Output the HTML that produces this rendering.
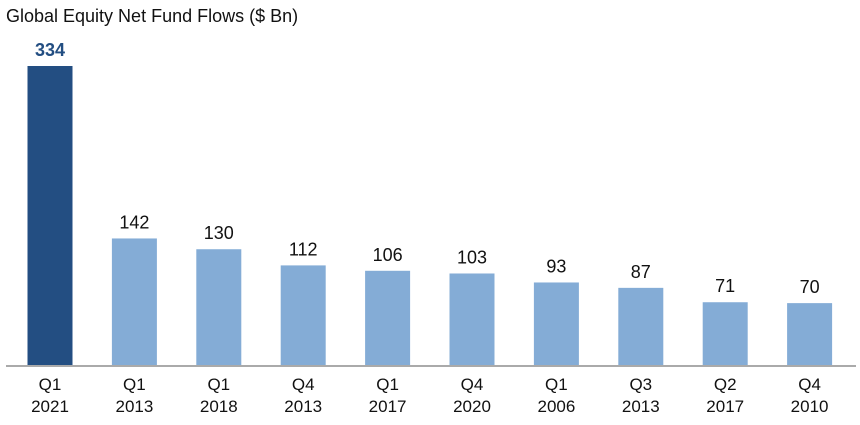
<!DOCTYPE html>
<html><head><meta charset="utf-8"><style>
body{margin:0;background:#fff;}
svg text{font-family:"Liberation Sans Narrow","Liberation Sans",sans-serif;}
</style></head><body>
<svg width="860" height="420">
<text x="6" y="22" font-size="18" fill="#111">Global Equity Net Fund Flows ($ Bn)</text>
<g id="bars"></g>
<line x1="6" x2="856" y1="366" y2="366" stroke="#aaa" stroke-width="2"/>
</svg>
<script>
const quarters=["Q1","Q1","Q1","Q4","Q1","Q4","Q1","Q3","Q2","Q4"];
const years=["2021","2013","2018","2013","2017","2020","2006","2013","2017","2010"];
const values=[334,142,130,112,106,103,93,87,71,70];
const x0=7.8,step=84.4,bw=45,base=366,scale=300/334;
const xs=i=>x0+step*(i+0.5);
const ys=v=>base-v*scale;
const g=document.getElementById('bars');
const NS="http://www.w3.org/2000/svg";
values.forEach((v,i)=>{
  const r=document.createElementNS(NS,'rect');
  
  
  r.setAttribute('x',xs(i)-bw/2);r.setAttribute('y',ys(v));
  r.setAttribute('width',bw);r.setAttribute('height',base-ys(v));
  r.setAttribute('fill',i===0?'#234e82':'#84acd6');
  g.appendChild(r);
  const t=document.createElementNS(NS,'text');
  
  
  t.setAttribute('x',xs(i));t.setAttribute('y',ys(v)-10);
  t.setAttribute('text-anchor','middle');t.setAttribute('font-size','18');
  t.setAttribute('fill',i===0?'#234e82':'#111');
  if(i===0)t.setAttribute('font-weight','bold');
  t.textContent=v;g.appendChild(t);
  const q=document.createElementNS(NS,'text');
  
  
  q.setAttribute('x',xs(i));q.setAttribute('y',390);
  q.setAttribute('text-anchor','middle');q.setAttribute('font-size','17');q.setAttribute('fill','#111');
  q.textContent=quarters[i];g.appendChild(q);
  const y=document.createElementNS(NS,'text');
  
  
  y.setAttribute('x',xs(i));y.setAttribute('y',412);
  y.setAttribute('text-anchor','middle');y.setAttribute('font-size','17');y.setAttribute('fill','#111');
  y.textContent=years[i];g.appendChild(y);
});
</script>
</body></html>
